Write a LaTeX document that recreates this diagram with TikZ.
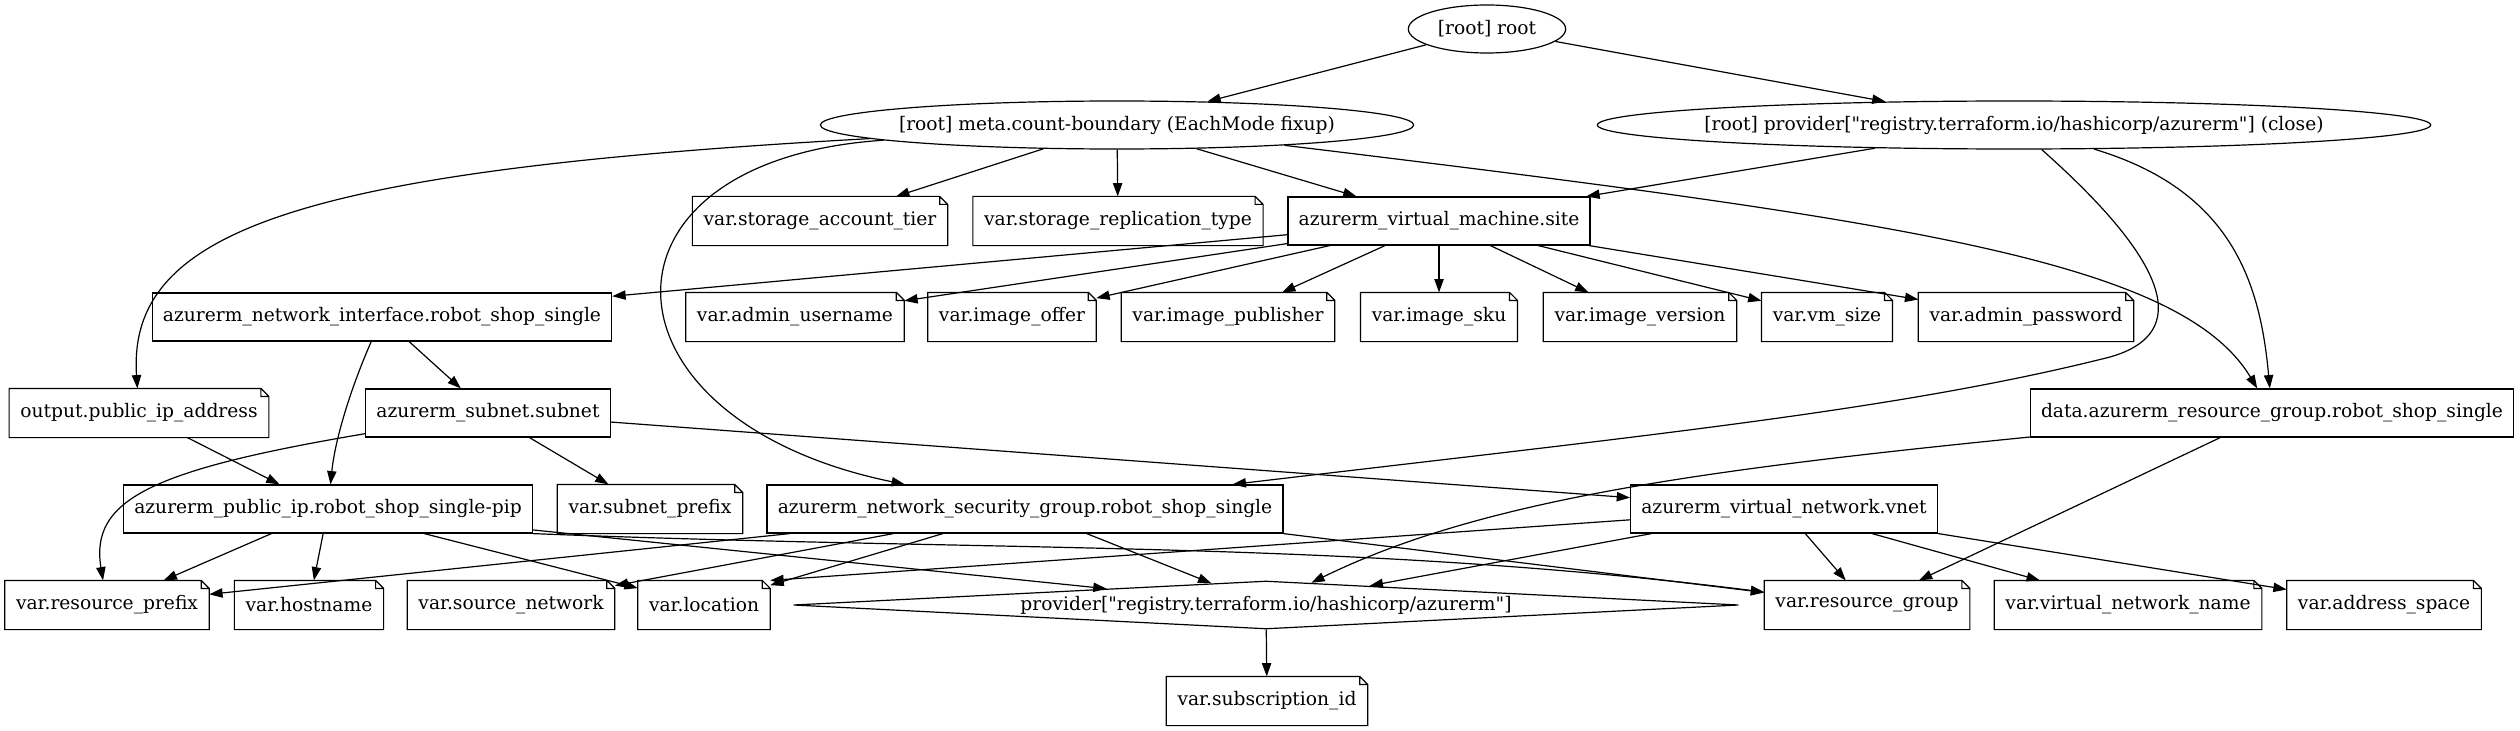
\documentclass[tikz,border=0pt]{standalone}
\usepackage{fontspec}
\setmainfont{DejaVu Serif}
\usetikzlibrary{shapes.geometric,arrows.meta}

\tikzset{
  resbox/.style={draw, rectangle, minimum height=36pt, inner xsep=8pt},
  varnote/.style={rectangle, minimum height=36pt, inner xsep=8pt},
  graphell/.style={draw, ellipse, minimum height=36pt, inner sep=0pt},
  provdiamond/.style={draw, diamond, aspect=19.7, inner sep=0pt, minimum width=709pt, minimum height=36pt},
  deparrow/.style={-{Triangle[length=10pt,width=7pt]}}
}
\newcommand{\foldsize}{6pt}
\newcommand{\dq}{\textquotedbl}

\begin{document}
\begin{tikzpicture}[x=0.75pt, y=-0.75pt, line width=0.9pt, font=\fontsize{14}{17}\selectfont]
\useasboundingbox (0,0) rectangle (2520,731);

% Root level
\node[graphell, minimum width=118pt, label=center:{[root] root}] (root) at (1487,29) {};
\node[graphell, minimum width=445pt, label=center:{[root] meta.count-boundary (EachMode fixup)}] (meta) at (1117,125) {};
\node[graphell, minimum width=625pt, label=center:{[root] provider[\dq registry.terraform.io/hashicorp/azurerm\dq] (close)}] (provclose) at (2014,125) {};

% Storage vars and VM
\node[varnote] (vsat) at (820,221) {var.storage\_account\_tier};
\node[varnote] (vsrt) at (1118,221) {var.storage\_replication\_type};
\node[resbox] (vmsite) at (1439,221) {azurerm\_virtual\_machine.site};

% VM inputs
\node[resbox] (netif) at (382,317) {azurerm\_network\_interface.robot\_shop\_single};
\node[varnote] (vadmuser) at (795,317) {var.admin\_username};
\node[varnote] (vimgoffer) at (1012,317) {var.image\_offer};
\node[varnote] (vimgpub) at (1228,317) {var.image\_publisher};
\node[varnote] (vimgsku) at (1439,317) {var.image\_sku};
\node[varnote] (vimgver) at (1640,317) {var.image\_version};
\node[varnote] (vvmsize) at (1827,317) {var.vm\_size};
\node[varnote] (vadmpw) at (2026,317) {var.admin\_password};

% Output, subnet, resource group
\node[varnote] (outpip) at (139,413) {output.public\_ip\_address};
\node[resbox] (subnet) at (488,413) {azurerm\_subnet.subnet};
\node[resbox] (datarg) at (2272,413) {data.azurerm\_resource\_group.robot\_shop\_single};

% Network resources
\node[resbox] (pubip) at (328,509) {azurerm\_public\_ip.robot\_shop\_single-pip};
\node[varnote] (vsubpre) at (650,509) {var.subnet\_prefix};
\node[resbox] (nsg) at (1025,509) {azurerm\_network\_security\_group.robot\_shop\_single};
\node[resbox] (vnet) at (1784,509) {azurerm\_virtual\_network.vnet};

% Leaf vars and provider
\node[varnote] (vrespre) at (107,605) {var.resource\_prefix};
\node[varnote] (vhost) at (309,605) {var.hostname};
\node[varnote] (vsrcnet) at (511,605) {var.source\_network};
\node[varnote] (vloc) at (704,605) {var.location};
\node[provdiamond] (prov) at (1266,605) {provider[\dq registry.terraform.io/hashicorp/azurerm\dq]};
\node[varnote] (vrg) at (1867,605) {var.resource\_group};
\node[varnote] (vvnetname) at (2128,605) {var.virtual\_network\_name};
\node[varnote] (vaddr) at (2384,605) {var.address\_space};
\node[varnote] (vsubid) at (1267,701) {var.subscription\_id};

% Note outlines (folded corner)
\foreach \n in {vsat,vsrt,vadmuser,vimgoffer,vimgpub,vimgsku,vimgver,vvmsize,vadmpw,outpip,vsubpre,vrespre,vhost,vsrcnet,vloc,vrg,vvnetname,vaddr,vsubid}
  \draw (\n.north west) -- ([xshift=-\foldsize]\n.north east) -- ([yshift=-\foldsize]\n.north east) -- (\n.south east) -- (\n.south west) -- cycle
        ([xshift=-\foldsize]\n.north east) |- ([yshift=-\foldsize]\n.north east);

% Edges
\draw[deparrow] (root) -- (meta);
\draw[deparrow] (root) -- (provclose);
\draw[deparrow] (meta) .. controls (300,170) and (127,230) .. (outpip);
\draw[deparrow] (meta) .. controls (580,160) and (590,420) .. (nsg);
\draw[deparrow] (meta) -- (vsat);
\draw[deparrow] (meta) -- (vsrt);
\draw[deparrow] (meta) -- (vmsite);
\draw[deparrow] (meta) .. controls (1900,220) and (2180,260) .. (datarg);
\draw[deparrow] (provclose) -- (vmsite);
\draw[deparrow] (provclose) .. controls (2200,290) and (2170,340) .. (2110,357) .. controls (1900,410) and (1650,435) .. (nsg);
\draw[deparrow] (provclose) .. controls (2230,190) and (2260,280) .. (datarg);
\foreach \tgt in {netif,vadmuser,vimgoffer,vimgpub,vimgsku,vimgver,vvmsize,vadmpw}
  \draw[deparrow] (vmsite) -- (\tgt);
\draw[deparrow] (netif) -- (subnet);
\draw[deparrow] (netif) .. controls (350,390) and (335,440) .. (pubip);
\draw[deparrow] (outpip) -- (pubip);
\draw[deparrow] (subnet) .. controls (150,470) and (90,500) .. (vrespre);
\draw[deparrow] (subnet) -- (vsubpre);
\draw[deparrow] (subnet) -- (vnet);
\foreach \tgt in {vrespre,vhost,vloc,prov}
  \draw[deparrow] (pubip) -- (\tgt);
\draw[deparrow] (pubip.south east) .. controls (1000,552) and (1350,540) .. (vrg);
\foreach \tgt in {vrespre,vsrcnet,vloc,prov}
  \draw[deparrow] (nsg) -- (\tgt);
\draw[deparrow] (nsg.south east) -- (vrg);
\draw[deparrow] (vnet) -- (vloc.north east);
\foreach \tgt in {prov,vrg,vvnetname,vaddr}
  \draw[deparrow] (vnet) -- (\tgt);
\draw[deparrow] (datarg) .. controls (1700,470) and (1480,500) .. (prov);
\draw[deparrow] (datarg) -- (vrg);
\draw[deparrow] (prov) -- (vsubid);
\end{tikzpicture}
\end{document}
